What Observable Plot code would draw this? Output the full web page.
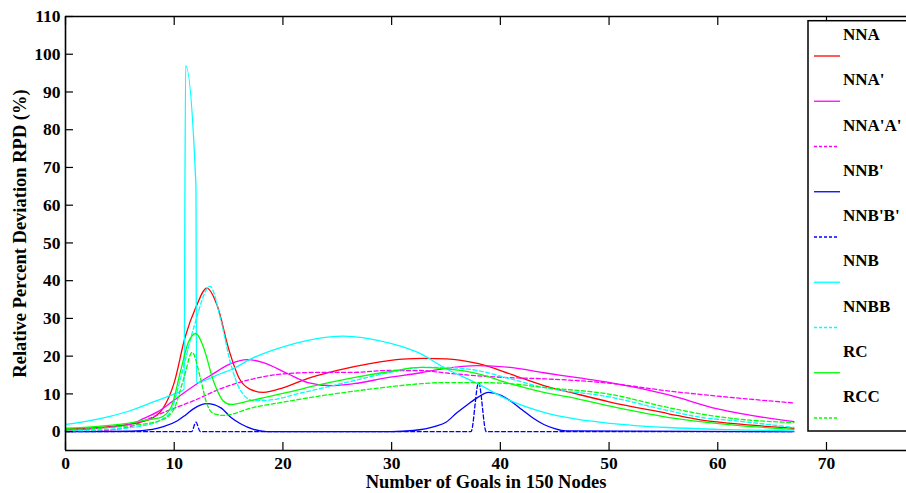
<!DOCTYPE html>
<html>
<head>
<meta charset="utf-8">
<script src="https://cdn.jsdelivr.net/npm/d3@7"></script>
<script src="https://cdn.jsdelivr.net/npm/@observablehq/plot@0.6"></script>
<style>
  html, body { margin: 0; padding: 0; background: #fff; overflow: hidden; width: 906px; height: 493px; }
  #wrap { position: relative; width: 906px; height: 493px; }
  #legend { position: absolute; left: 0; top: 0; }
</style>
</head>
<body>
<div id="wrap"></div>
<script>
// ---------- data ----------
const xTicks = [0, 10, 20, 30, 40, 50, 60, 70];
const yTicks = [0, 10, 20, 30, 40, 50, 60, 70, 80, 90, 100, 110];
const xDomain = [0, 77.36];
const yDomain = [-5, 110];

const seriesNames = ["NNA", "NNA'", "NNA'A'", "NNB'", "NNB'B'", "NNB", "NNBB", "RC", "RCC"];
const seriesColors = ["#ff0000", "#ff00ff", "#ff00ff", "#0000ff", "#0000ff", "#00ffff", "#00ffff", "#00ff00", "#00ff00"];
const seriesDashed = [false, false, true, false, true, false, true, false, true];

const nnaX = [0, 2, 4, 6, 7, 8, 9, 10, 11, 12, 13, 14, 15, 16, 17, 18.2, 20, 22, 25, 28, 31, 33, 35, 38, 41, 44, 47, 50, 55.4, 58.4, 61.5, 67];
const nnaY = [0.7, 0.9, 1.3, 2.0, 2.6, 3.6, 6.3, 13, 25, 33, 38, 33, 22, 14, 11.2, 10.4, 11.6, 13.8, 16.2, 18, 19.2, 19.4, 19.3, 18, 15.2, 12.2, 10, 7.9, 4.8, 3.1, 2.1, 0.9];

const nnaPX = [0, 3, 6, 7.2, 8.5, 9.7, 11, 12, 13.3, 15.2, 16.7, 18.2, 20.4, 22.3, 24.4, 26.5, 29.6, 32.7, 34.8, 37.9, 40.9, 44, 47.1, 50.1, 55.4, 60, 67];
const nnaPY = [0.4, 0.9, 2.0, 3.5, 5.3, 7.7, 10.5, 12.5, 14.8, 18, 19.1, 18.3, 15.4, 13, 12.2, 12.7, 14.3, 15.6, 16.7, 17.5, 17, 15.6, 14.3, 13, 9.8, 6.0, 2.65];

const nnaPAX = [0, 3, 5.7, 7, 8.7, 10, 11.8, 14.3, 17.3, 20.4, 23.5, 26.5, 29.6, 32.7, 34.8, 37.9, 40.9, 44, 50.1, 55.4, 60, 67];
const nnaPAY = [0.2, 0.3, 1.1, 2.6, 4.7, 6.2, 8.2, 11.4, 14, 15.4, 15.7, 15.7, 16.2, 16.2, 15.6, 14.8, 14.3, 14.0, 12.8, 10.8, 9.4, 7.6];

const nnbPX = [0, 6, 8, 9, 10.3, 11, 11.8, 13, 14.3, 15.2, 16.1, 17.3, 18.5, 30, 32, 34, 35, 36, 37, 38, 38.9, 40, 41, 42, 43, 44, 45, 46, 67];
const nnbPY = [0, 0.1, 0.6, 1.3, 2.9, 4.3, 6.1, 7.4, 6.3, 3.8, 2.1, 0.6, 0, 0, 0.3, 1.4, 2.5, 5.0, 7.2, 9.2, 10.4, 9.7, 8.0, 5.8, 3.6, 1.9, 0.8, 0.2, 0];

const nnbPBX = [0, 11.6, 12.0, 12.4, 37.3, 38.0, 38.7, 67];
const nnbPBY = [0, 0, 2.5, 0, 0, 13, 0, 0];

const nnbX = [0, 2, 4, 6, 8, 10, 10.9, 11.05, 12.0, 12.05, 13, 14.3, 15.2, 17.3, 20.4, 23, 25.5, 28, 30, 32.7, 34.8, 37.9, 40.9, 44, 47, 50.1, 55.4, 60, 67];
const nnbY = [1.9, 2.8, 4.0, 5.6, 7.8, 10.0, 11.2, 97, 65, 12.9, 13.8, 15.4, 16.4, 19.6, 22.8, 24.6, 25.3, 24.6, 23.3, 20.6, 17, 12.7, 8.2, 5.1, 3.3, 2.2, 1.1, 0.6, 0.2];

const nnbbX = [0, 4, 7, 8.7, 9.7, 10.6, 11.8, 13.3, 14.3, 15.2, 16.1, 17.3, 18.5, 21.9, 26.5, 30, 32.7, 34.8, 37.9, 40.9, 44, 50, 55.4, 58.4, 61.5, 67];
const nnbbY = [0.2, 0.6, 1.5, 3.0, 5.5, 14.3, 27.6, 38.5, 29.4, 18, 10.9, 8.2, 8.3, 10.4, 13.5, 15.8, 17, 17, 16.2, 14, 11.7, 9.2, 5.6, 3.8, 2.9, 1.1];

const rcX = [0, 3, 6, 7.2, 8.7, 9.7, 10.6, 11.3, 12, 12.7, 13.6, 14.5, 15.2, 17, 20.4, 23.5, 26.5, 30, 32.7, 34.8, 37.9, 40.9, 44, 47.1, 50, 55.4, 58.4, 62, 67];
const rcY = [0.9, 1.4, 2.3, 3.0, 3.7, 6.4, 16.2, 23.7, 26, 22.3, 13.5, 8.2, 7.2, 8.2, 10.4, 12.5, 14.3, 16, 17, 16.7, 15.4, 12.7, 10.4, 8.7, 6.8, 3.8, 2.65, 1.6, 0.6];

const rccX = [0, 3, 6, 8.7, 9.9, 10.9, 11.65, 12.4, 13, 13.6, 14.5, 17.3, 20.4, 23.5, 26.5, 29.6, 32.7, 34.8, 37.9, 40.9, 44, 50.1, 55.4, 58.4, 62, 67];
const rccY = [0.4, 0.9, 1.6, 2.9, 5.6, 14.3, 21, 14.3, 7.4, 4.8, 4.3, 6.4, 8, 9.5, 10.7, 11.8, 12.7, 13, 13, 12.7, 11.7, 9.9, 6.4, 4.7, 3.3, 2.4];

const seriesX = [nnaX, nnaPX, nnaPAX, nnbPX, nnbPBX, nnbX, nnbbX, rcX, rccX];
const seriesY = [nnaY, nnaPY, nnaPAY, nnbPY, nnbPBY, nnbY, nnbbY, rcY, rccY];

// ---------- chart ----------
const font = "'Liberation Serif', 'Times New Roman', serif";
const lineMarks = seriesNames.map((name, k) =>
  Plot.line({length: seriesX[k].length}, {
    x: seriesX[k], y: seriesY[k],
    stroke: seriesColors[k], strokeWidth: 1.3,
    strokeDasharray: seriesDashed[k] ? "4,2.5" : null,
    curve: "monotone-x"
  })
);

const chart = Plot.plot({
  width: 906, height: 493,
  marginLeft: 65, marginRight: 0, marginTop: 16, marginBottom: 43,
  style: {fontFamily: font, fontWeight: "bold", fontSize: "17px", color: "#000", background: "#fff"},
  x: {domain: xDomain},
  y: {domain: yDomain},
  marks: [
    ...lineMarks,
    Plot.axisX({anchor: "bottom", ticks: xTicks, tickSize: -8, tickPadding: 14, label: null, strokeWidth: 1.2, fontSize: 17.5, fontWeight: "bold"}),
    Plot.axisX({anchor: "top", ticks: xTicks, tickSize: -8, tickFormat: () => "", label: null, strokeWidth: 1.2}),
    Plot.axisY({anchor: "left", ticks: yTicks, tickSize: -8, tickPadding: 13, label: null, strokeWidth: 1.2, fontSize: 17.5, fontWeight: "bold"}),
    Plot.ruleX([xDomain[0]], {strokeWidth: 1.6}),
    Plot.ruleY([yDomain[0]], {strokeWidth: 1.6}),
    Plot.ruleY([yDomain[1]], {strokeWidth: 1.6}),
    Plot.text(["Number of Goals in 150 Nodes"], {frameAnchor: "bottom", textAnchor: "middle", lineAnchor: "middle", dy: 31.5, fontSize: 18.5, fontWeight: "bold"}),
    Plot.text(["Relative Percent Deviation RPD (%)"], {frameAnchor: "left", textAnchor: "middle", lineAnchor: "middle", rotate: -90, dx: -45, fontSize: 18.5, fontWeight: "bold"})
  ]
});
document.getElementById("wrap").appendChild(chart);

// ---------- legend ----------
const lg = d3.select("#wrap").append("svg")
  .attr("id", "legend").attr("width", 906).attr("height", 493)
  .style("font-family", font).style("font-weight", "bold");
lg.append("rect").attr("x", 808).attr("y", 20.7).attr("width", 140).attr("height", 410.3)
  .attr("fill", "#fff").attr("stroke", "#000").attr("stroke-width", 1.5);
seriesNames.forEach((name, k) => {
  const base = 40 + k * 45.25;
  lg.append("text").attr("x", 843).attr("y", base).attr("font-size", 17).attr("fill", "#000").text(name);
  lg.append("line").attr("x1", 814).attr("x2", seriesDashed[k] ? 838 : 840)
    .attr("y1", base + 16).attr("y2", base + 16)
    .attr("stroke", seriesColors[k]).attr("stroke-width", 1.3)
    .attr("stroke-dasharray", seriesDashed[k] ? "3,2" : null);
});
</script>
</body>
</html>
